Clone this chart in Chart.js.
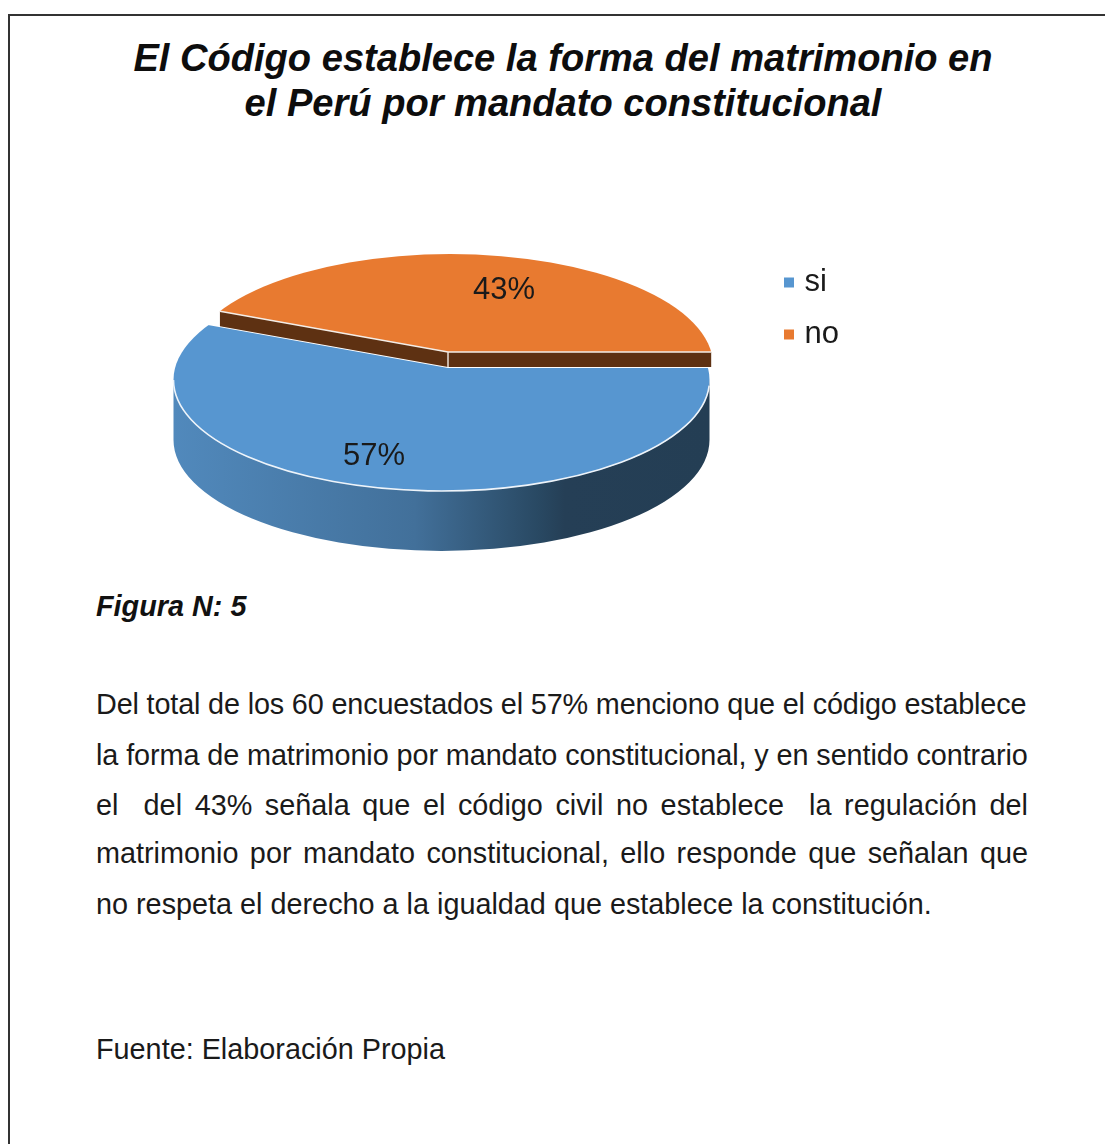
<!DOCTYPE html>
<html>
<head>
<meta charset="utf-8">
<script src="https://cdn.jsdelivr.net/npm/chart.js@4"></script>
<style>
    html, body { margin: 0; padding: 0; background: #fff; }
    body { position: relative; width: 1105px; height: 1144px; overflow: hidden; font-family: "Liberation Sans", Arial, sans-serif; color: #1a1a1a; }
    .frame { position: absolute; left: 8px; top: 14px; width: 1097px; height: 1130px; border-left: 2px solid #333; border-top: 2px solid #333; box-sizing: border-box; }
    .title { position: absolute; left: 0; width: 1126px; text-align: center; font: italic bold 38.1px "Liberation Sans", Arial, sans-serif; color: #0d0d0d; line-height: 45px; top: 36px; }
    .fig { position: absolute; left: 96px; top: 590px; font: italic bold 28.8px "Liberation Sans", Arial, sans-serif; color: #111; line-height: 32px; }
    .line { position: absolute; left: 96px; width: 932px; font-size: 28.8px; line-height: 34px; white-space: nowrap; text-align: justify; text-align-last: justify; }
    .line.last { text-align-last: left; }
    .line.tight1 { letter-spacing: -0.155px; }
    .line.tight2 { letter-spacing: -0.085px; }
    canvas { position: absolute; left: 0; top: 0; }
</style>
</head>
<body>
<div class="frame"></div>
<div class="title" id="title"></div>
<div style="position:absolute;left:0;top:0;width:1105px;height:580px;"><canvas id="pie"></canvas></div>
<div class="fig" id="fig"></div>
<div id="text"></div>
<script>
const categories = ['si', 'no'];
const values = [57, 43];
const sliceColors = ['#5796d0', '#e87a30'];
const titleLines = ['El Código establece la forma del matrimonio en', 'el Perú por mandato constitucional'];
const figureLabel = 'Figura N: 5';
const bodyLines = [
    'Del total de los 60 encuestados el 57% menciono que el código establece',
    'la forma de matrimonio por mandato constitucional, y en sentido contrario',
    'el \u00a0del 43% señala que el código civil no establece \u00a0la regulación del',
    'matrimonio por mandato constitucional, ello responde que señalan que',
    'no respeta el derecho a la igualdad que establece la constitución.'
];
const sourceLine = 'Fuente: Elaboración Propia';

document.getElementById('title').innerHTML = titleLines.join('<br>');
document.getElementById('fig').textContent = figureLabel;

const lineTops = [687, 738, 788, 836, 887];
const textBox = document.getElementById('text');
bodyLines.forEach((t, i) => {
    const div = document.createElement('div');
    div.className = 'line' + (i === bodyLines.length - 1 ? ' last' : '');
    // first two lines run slightly too long at this size
    if (i === 0) div.className += ' last tight1';
    if (i === 1) div.className += ' last tight2';
    div.style.top = lineTops[i] + 'px';
    div.textContent = t;
    textBox.appendChild(div);
});
const src = document.createElement('div');
src.className = 'line last';
src.style.top = '1032px';
src.textContent = sourceLine;
textBox.appendChild(src);

// tilted look: each slice has its own pivot, a rim ellipse and a depth
const faces = [
    { ax: 448, ay: 368, cx: 441.5, cy: 380, rx: 268, ry: 111, kx: 339, ky: 91 },
    { ax: 448, ay: 352, cx: 450, cy: 365, rx: 263, ry: 111, kx: 257, ky: 63 }
];
const wallDepth = 60;
const cutDepth = 15;
const tiltX = 400, tiltY = 152;

// where a ray from the pivot meets the rim
const rimHit = (f, angle) => {
    const dx = Math.cos(angle) * tiltX, dy = Math.sin(angle) * tiltY;
    const ox = (f.ax - f.cx) / f.rx, oy = (f.ay - f.cy) / f.ry;
    const vx = dx / f.rx, vy = dy / f.ry;
    const a = vx * vx + vy * vy, b = 2 * (ox * vx + oy * vy), c = ox * ox + oy * oy - 1;
    const t = (-b + Math.sqrt(b * b - 4 * a * c)) / (2 * a);
    return { x: f.ax + dx * t, y: f.ay + dy * t };
};

const pie3d = {
    id: 'pie3d',
    beforeDatasetDraw(chart) {
        const ctx = chart.ctx;
        const arcs = chart.getDatasetMeta(0).data;
        const blue = faces[0], orange = faces[1];

        // outer wall of the front slice
        const grad = ctx.createLinearGradient(blue.cx - blue.rx, 0, blue.cx + blue.rx, 0);
        grad.addColorStop(0, '#5189bc');
        grad.addColorStop(0.45, '#42709a');
        grad.addColorStop(0.68, '#294963');
        grad.addColorStop(0.73, '#253f56');
        grad.addColorStop(1, '#243e54');
        ctx.save();
        ctx.beginPath();
        ctx.ellipse(blue.cx, blue.cy, blue.rx, blue.ry, 0, 0, Math.PI);
        ctx.ellipse(blue.cx, blue.cy + wallDepth, blue.rx, blue.ry, 0, Math.PI, 0, true);
        ctx.closePath();
        ctx.fillStyle = grad;
        ctx.fill();
        ctx.restore();

        // slices go through the arc element, squashed and clipped to the rim
        arcs.forEach((el, i) => {
            const f = faces[i];
            const r = el.outerRadius;
            ctx.save();
            ctx.beginPath();
            ctx.ellipse(f.cx, f.cy, f.rx, f.ry, 0, 0, Math.PI * 2);
            ctx.clip();
            ctx.translate(f.ax, f.ay);
            ctx.scale(tiltX / r, tiltY / r);
            ctx.translate(-el.x, -el.y);
            el.draw(ctx);
            ctx.restore();
        });

        // cut faces under the lifted slice
        const start = rimHit(orange, arcs[1].startAngle);
        const end = rimHit(orange, arcs[1].endAngle);
        ctx.save();
        ctx.fillStyle = '#5e3112';
        ctx.beginPath();
        ctx.moveTo(start.x, start.y);
        ctx.lineTo(orange.ax, orange.ay);
        ctx.lineTo(end.x, end.y);
        ctx.lineTo(end.x, end.y + cutDepth);
        ctx.lineTo(orange.ax, orange.ay + cutDepth);
        ctx.lineTo(start.x, start.y + cutDepth);
        ctx.closePath();
        ctx.fill();
        ctx.strokeStyle = '#f4ede6';
        ctx.lineWidth = 1.4;
        ctx.beginPath();
        ctx.moveTo(start.x, start.y);
        ctx.lineTo(orange.ax, orange.ay);
        ctx.lineTo(end.x, end.y);
        ctx.moveTo(orange.ax, orange.ay);
        ctx.lineTo(orange.ax, orange.ay + cutDepth);
        ctx.stroke();

        // white hairline round the front rim
        ctx.strokeStyle = '#eef4fa';
        ctx.lineWidth = 1.6;
        ctx.beginPath();
        ctx.ellipse(blue.cx, blue.cy, blue.rx, blue.ry, 0, 0.05, Math.PI);
        ctx.stroke();
        ctx.restore();

        // percent labels
        const total = values.reduce((a, b) => a + b, 0);
        ctx.save();
        ctx.font = '31px "Liberation Sans", Arial, sans-serif';
        ctx.fillStyle = '#1a1a1a';
        ctx.textAlign = 'center';
        ctx.textBaseline = 'middle';
        arcs.forEach((el, i) => {
            const f = faces[i];
            const mid = (el.startAngle + el.endAngle) / 2;
            const pct = Math.round(values[i] / total * 100) + '%';
            ctx.fillText(pct, f.ax + Math.cos(mid) * f.kx, f.ay + Math.sin(mid) * f.ky);
        });
        ctx.restore();
        return false;
    }
};

new Chart(document.getElementById('pie'), {
    type: 'pie',
    data: {
        labels: categories,
        datasets: [{
            data: values,
            backgroundColor: sliceColors,
            borderWidth: 0
        }]
    },
    options: {
        responsive: true,
        maintainAspectRatio: false,
        animation: false,
        rotation: 90,
        layout: { padding: { top: 246, right: 256 } },
        plugins: {
            tooltip: { enabled: false },
            legend: {
                position: 'right',
                align: 'start',
                labels: {
                    usePointStyle: true,
                    pointStyle: 'rect',
                    boxWidth: 0.01,
                    boxHeight: 10,
                    padding: 21,
                    color: '#1a1a1a',
                    font: { family: '"Liberation Sans", Arial, sans-serif', size: 31 }
                }
            }
        }
    },
    plugins: [pie3d]
});
</script>
</body>
</html>
